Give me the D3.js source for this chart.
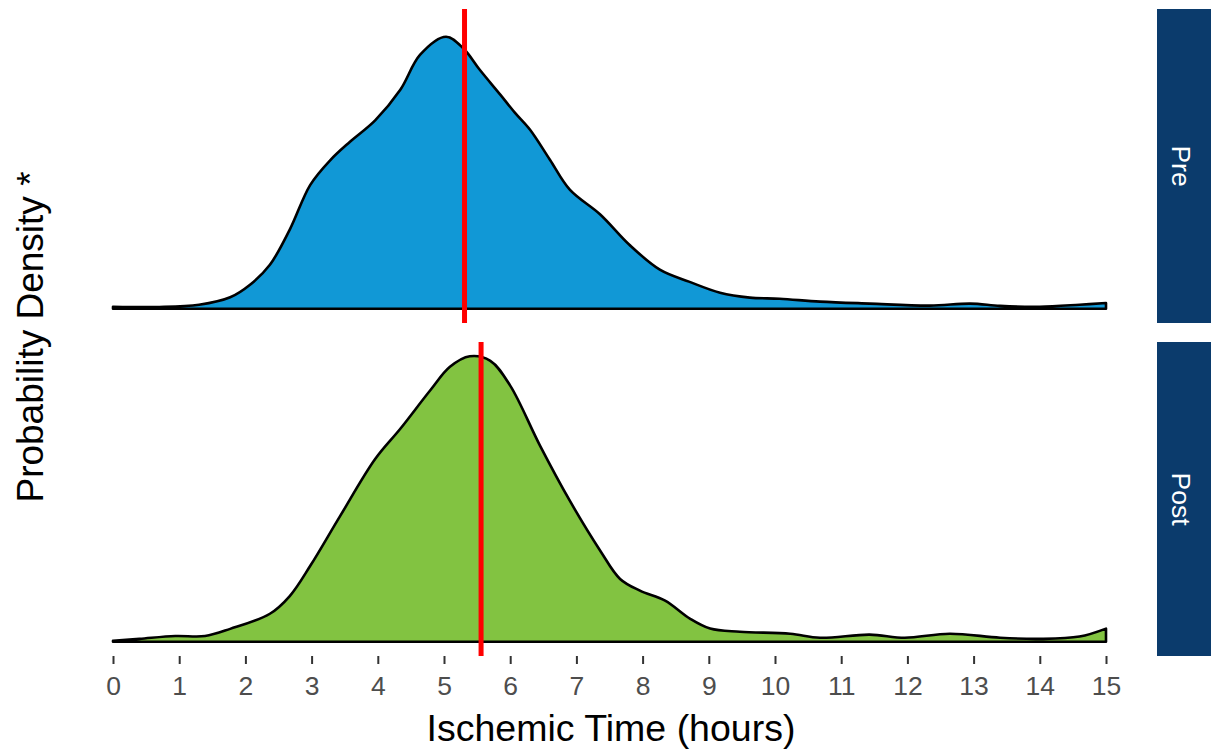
<!DOCTYPE html>
<html>
<head>
<meta charset="utf-8">
<script src="https://cdn.jsdelivr.net/npm/d3@7"></script>
<style>
  html, body { margin: 0; padding: 0; background: #fff; }
  svg { display: block; font-family: "Liberation Sans", Arial, sans-serif; }
</style>
</head>
<body>
<svg id="chart" width="1211" height="749"></svg>
<script>
// Ischemic time (hours) – kernel density per period, scaled to a shared maximum
const panels = ["Pre", "Post"];
const fills = ["#1198D6", "#82C341"];
const medians = [5.31, 5.56];

const preX = [0, 0.7, 1.3, 1.77, 2.07, 2.37, 2.67, 2.98, 3.28, 3.58, 3.96, 4.34, 4.64, 5.03, 5.3, 5.54, 5.85, 6.07, 6.3, 6.6, 6.9, 7.36, 7.8, 8.26, 8.7, 9.17, 9.62, 10.07, 10.68, 11.43, 12.34, 12.95, 13.4, 14, 14.6, 15];
const preY = [0.007, 0.006, 0.014, 0.04, 0.084, 0.154, 0.277, 0.434, 0.52, 0.585, 0.66, 0.767, 0.89, 0.953, 0.91, 0.837, 0.75, 0.687, 0.627, 0.522, 0.417, 0.33, 0.224, 0.137, 0.095, 0.056, 0.039, 0.035, 0.025, 0.018, 0.011, 0.018, 0.01, 0.007, 0.014, 0.02];

const postX = [0, 0.4, 0.94, 1.39, 1.77, 2.37, 2.67, 2.98, 3.43, 3.96, 4.34, 4.79, 5.09, 5.39, 5.7, 6.0, 6.45, 6.9, 7.36, 7.66, 7.96, 8.34, 8.72, 9.02, 9.47, 10.23, 10.68, 11.43, 11.96, 12.64, 13.4, 14, 14.6, 15];
const postY = [0.003, 0.01, 0.02, 0.02, 0.045, 0.098, 0.16, 0.266, 0.44, 0.64, 0.746, 0.88, 0.963, 1.0, 0.984, 0.897, 0.687, 0.494, 0.319, 0.22, 0.179, 0.144, 0.08, 0.046, 0.035, 0.028, 0.014, 0.025, 0.014, 0.028, 0.014, 0.01, 0.018, 0.046];

const xTicks = d3.range(0, 16);
const series = [
  preX.map((x, i) => ({ x, y: preY[i] })),
  postX.map((x, i) => ({ x, y: postY[i] }))
];

const svg = d3.select("#chart");
const left = 113, right = 1106;
const panelTops = [9, 342], panelH = 314;
const stripX = 1157, stripW = 54;

const x = d3.scaleLinear().domain([0, 15]).range([left, right]);
const yMax = d3.max(series.flat(), d => d.y);

panels.forEach((name, i) => {
  const top = panelTops[i];
  const pad = panelH * 0.05 / 1.1;
  const y = d3.scaleLinear().domain([0, yMax]).range([top + panelH - pad, top + pad]);
  const g = svg.append("g");

  const area = d3.area()
    .x(d => x(d.x))
    .y0(y(0))
    .y1(d => y(Math.max(0, d.y)))
    .curve(d3.curveCatmullRom.alpha(0.5));

  g.append("path")
    .datum(series[i])
    .attr("d", area)
    .attr("fill", fills[i])
    .attr("stroke", "#000")
    .attr("stroke-width", 2.6)
    .attr("stroke-linejoin", "round")
    .attr("stroke-linecap", "round");

  g.append("line")
    .attr("x1", x(medians[i])).attr("x2", x(medians[i]))
    .attr("y1", top).attr("y2", top + panelH)
    .attr("stroke", "#FF0000")
    .attr("stroke-width", 5);

  // facet strip
  svg.append("rect")
    .attr("x", stripX).attr("y", top)
    .attr("width", stripW).attr("height", panelH)
    .attr("fill", "#0B3B6C");
  svg.append("text")
    .attr("transform", `translate(1172, ${top + panelH / 2}) rotate(90)`)
    .attr("text-anchor", "middle")
    .attr("fill", "#fff")
    .attr("font-size", 26.5)
    .text(name);
});

// bottom axis
const axisY = panelTops[1] + panelH;
const axis = svg.append("g")
  .attr("transform", `translate(0, ${axisY})`)
  .call(d3.axisBottom(x).tickValues(xTicks).tickFormat(d3.format("d")).tickSize(8).tickPadding(0));
axis.select(".domain").remove();
axis.selectAll(".tick line").attr("stroke", "#333").attr("stroke-width", 2);
axis.selectAll(".tick text")
  .attr("fill", "#4D4D4D")
  .attr("font-size", 26.5)
  .attr("dy", null)
  .attr("y", 695 - axisY)
  .attr("font-family", "Liberation Sans, Arial, sans-serif");

svg.append("text")
  .attr("x", 611)
  .attr("y", 741)
  .attr("text-anchor", "middle")
  .attr("font-size", 37.5)
  .attr("fill", "#000")
  .text("Ischemic Time (hours)");

svg.append("text")
  .attr("transform", `translate(43, 337) rotate(-90)`)
  .attr("text-anchor", "middle")
  .attr("font-size", 37)
  .attr("fill", "#000")
  .text("Probability Density *");
</script>
</body>
</html>
